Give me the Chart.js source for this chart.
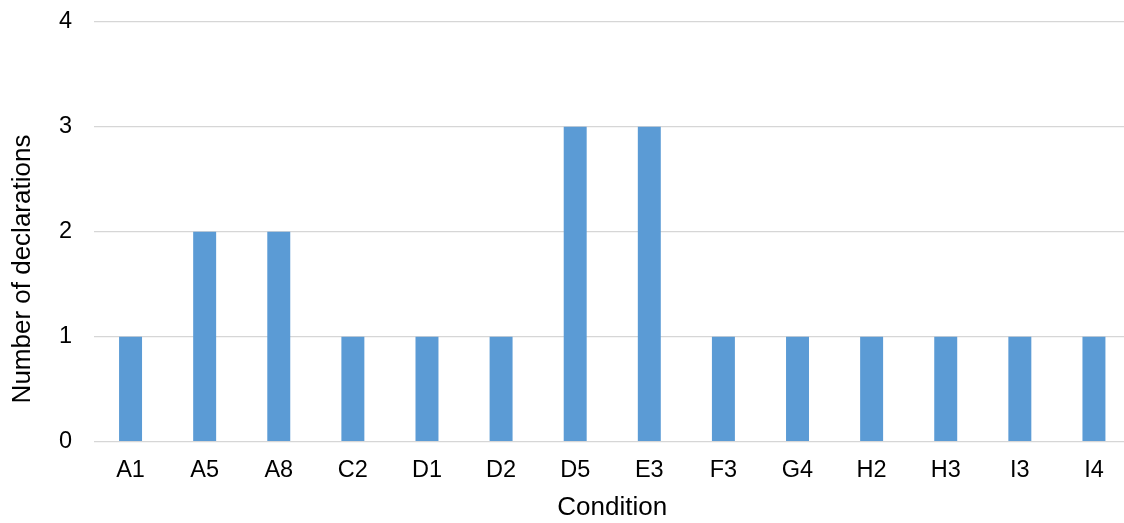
<!DOCTYPE html>
<html>
<head>
<meta charset="utf-8">
<script src="https://cdn.jsdelivr.net/npm/chart.js@4"></script>
<style>
html,body{margin:0;padding:0;background:#fff;overflow:hidden;}
#wrap{width:1131px;height:523px;}
</style>
</head>
<body>
<div id="wrap"><canvas id="c" width="1131" height="523"></canvas></div>
<script>
const categories = ["A1","A5","A8","C2","D1","D2","D5","E3","F3","G4","H2","H3","I3","I4"];
const declarations = [1,2,2,1,1,1,3,3,1,1,1,1,1,1];
const yTicks = [0,1,2,3,4];
const xTitle = "Condition";
const yTitle = "Number of declarations";

const FONT = "'Liberation Sans', Arial, sans-serif";

const yTitlePlugin = {
  id: 'yTitle',
  afterDraw(chart) {
    const ctx = chart.ctx;
    ctx.save();
    ctx.translate(23, 269);
    ctx.rotate(-Math.PI / 2);
    ctx.font = "26px " + FONT;
    ctx.fillStyle = '#000';
    ctx.textAlign = 'center';
    ctx.textBaseline = 'middle';
    ctx.fillText(yTitle, 0, 0);
    ctx.restore();
  }
};

new Chart(document.getElementById('c'), {
  type: 'bar',
  data: {
    labels: categories,
    datasets: [{
      data: declarations,
      backgroundColor: '#5b9bd5',
      borderWidth: 0,
      barPercentage: 0.31,
      categoryPercentage: 1.0
    }]
  },
  options: {
    responsive: false,
    animation: false,
    layout: { padding: { top: 21.7, left: 0, right: 0, bottom: 0 } },
    plugins: { legend: { display: false }, tooltip: { enabled: false } },
    scales: {
      x: {
        grid: { display: false },
        border: { display: false },
        ticks: { color: '#000', font: { family: FONT, size: 23.5 }, padding: 7, maxRotation: 0 },
        title: { display: true, text: xTitle, color: '#000', font: { family: FONT, size: 26 }, padding: { top: 0, bottom: 0 } },
        afterFit: s => { s.height = 81.3; }
      },
      y: {
        min: 0, max: 4,
        afterBuildTicks: s => { s.ticks = yTicks.map(v => ({ value: v })); },
        grid: { color: '#d6d6d6', lineWidth: 1.3, drawTicks: false },
        border: { display: false },
        ticks: { color: '#000', font: { family: FONT, size: 23.5 }, padding: 21.5 },
        title: { display: false },
        afterFit: s => { s.width = 93.5; s.paddingTop = 0; s.paddingBottom = 0; }
      }
    }
  },
  plugins: [yTitlePlugin]
});
</script>
</body>
</html>
